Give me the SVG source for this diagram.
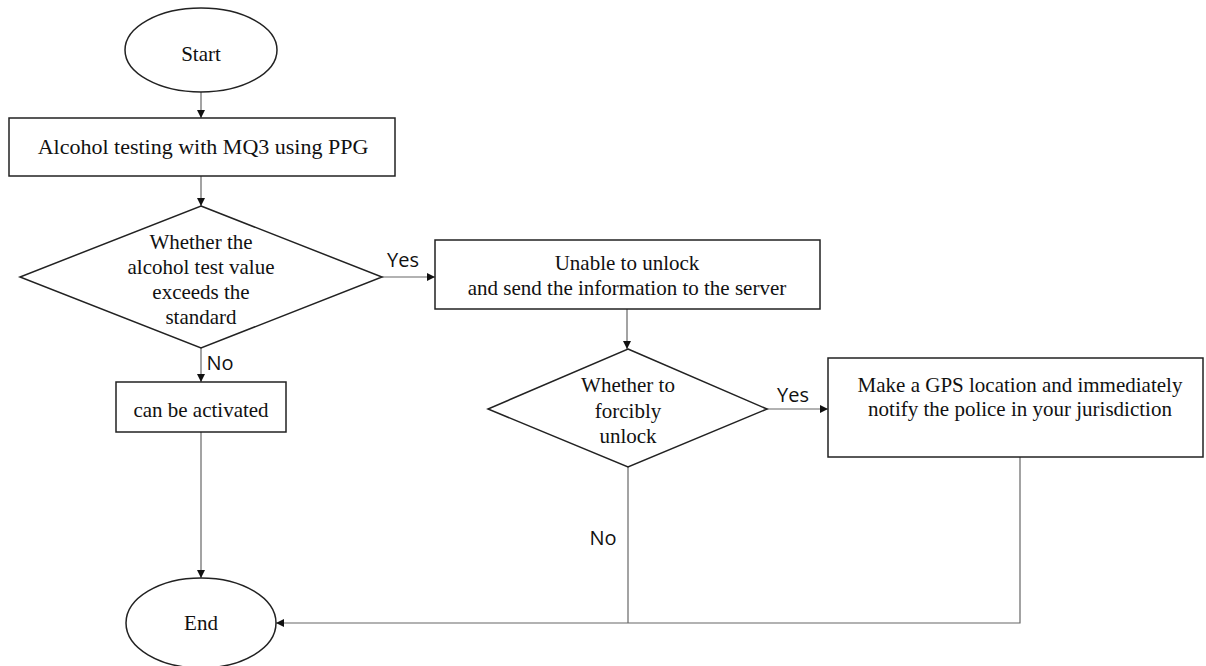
<svg xmlns="http://www.w3.org/2000/svg" width="1206" height="666" viewBox="0 0 1206 666">
<style>
.shape{fill:#fff;stroke:#222;stroke-width:1.5}
.t{font-family:"Liberation Serif","Times New Roman",serif;font-size:21px;fill:#111;text-anchor:middle}
.lbl{font-family:"Open Sans","Liberation Sans",sans-serif;font-size:20px;fill:#111;text-anchor:middle}
.c{fill:none;stroke:#666;stroke-width:1.2}
</style>
<defs>
<marker id="arr" viewBox="0 0 10 10" refX="10" refY="5" markerWidth="9" markerHeight="8" markerUnits="userSpaceOnUse" orient="auto">
<path d="M0,0 L10,5 L0,10 z" fill="#111"/>
</marker>
</defs>
<g id="connectors">
<path class="c" d="M201,92 V118" marker-end="url(#arr)"/>
<path class="c" d="M201,176 V206" marker-end="url(#arr)"/>
<path class="c" d="M382,277 H435" marker-end="url(#arr)"/>
<path class="c" d="M201,348 V382" marker-end="url(#arr)"/>
<path class="c" d="M627,309 V349" marker-end="url(#arr)"/>
<path class="c" d="M767,409 H828" marker-end="url(#arr)"/>
<path class="c" d="M201,432 V578" marker-end="url(#arr)"/>
<path class="c" d="M628,467 V623"/>
<path class="c" d="M1020,457 V623 H276" marker-end="url(#arr)"/>
<text class="lbl" x="403" y="267">Yes</text>
<text class="lbl" x="220" y="370">No</text>
<text class="lbl" x="793" y="402">Yes</text>
<text class="lbl" x="603" y="545">No</text>
</g>
<g id="start">
<ellipse class="shape" cx="201" cy="50" rx="76" ry="42"/>
<text class="t" x="201" y="61">Start</text>
</g>
<g id="test">
<rect class="shape" x="9" y="118" width="386" height="58"/>
<text class="t" x="203" y="154" style="font-size:22px">Alcohol testing with MQ3 using PPG</text>
</g>
<g id="decision1">
<polygon class="shape" points="201,206 382,277 201,348 20,277"/>
<text class="t" x="201" y="249">Whether the</text>
<text class="t" x="201" y="274">alcohol test value</text>
<text class="t" x="201" y="299">exceeds the</text>
<text class="t" x="201" y="324">standard</text>
</g>
<g id="unable">
<rect class="shape" x="435" y="240" width="385" height="69"/>
<text class="t" x="627" y="270">Unable to unlock</text>
<text class="t" x="627" y="295">and send the information to the server</text>
</g>
<g id="activated">
<rect class="shape" x="116" y="382" width="170" height="50"/>
<text class="t" x="201" y="417">can be activated</text>
</g>
<g id="decision2">
<polygon class="shape" points="628,349 767,409 628,467 488,409"/>
<text class="t" x="628" y="392">Whether to</text>
<text class="t" x="628" y="418">forcibly</text>
<text class="t" x="628" y="443">unlock</text>
</g>
<g id="gps">
<rect class="shape" x="828" y="358" width="375" height="99"/>
<text class="t" x="1020" y="392">Make a GPS location and immediately</text>
<text class="t" x="1020" y="416">notify the police in your jurisdiction</text>
</g>
<g id="end">
<ellipse class="shape" cx="201" cy="623" rx="75" ry="45"/>
<text class="t" x="201" y="630">End</text>
</g>
</svg>
